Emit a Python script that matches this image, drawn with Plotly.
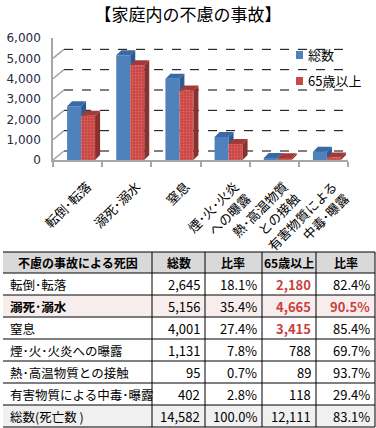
import plotly.graph_objects as go

# ---------------- data ----------------
axis_labels = ["転倒･転落", "溺死･溺水", "窒息", "煙･火･火炎<br>への曝露",
               "熱･高温物質<br>との接触", "有害物質による<br>中毒･曝露"]
table_names = ["転倒･転落", "溺死･溺水", "窒息", "煙･火･火炎への曝露",
               "熱･高温物質との接触", "有害物質による中毒･曝露", "総数(死亡数 )"]
total = [2645, 5156, 4001, 1131, 95, 402]
total_sum = 14582
total_ratio = [18.1, 35.4, 27.4, 7.8, 0.7, 2.8, 100.0]
elderly = [2180, 4665, 3415, 788, 89, 118]
elderly_sum = 12111
elderly_ratio = [82.4, 90.5, 85.4, 69.7, 93.7, 29.4, 83.1]
y_ticks = [0, 1000, 2000, 3000, 4000, 5000, 6000]
series_names = ["総数", "65歳以上"]
header = ["不慮の事故による死因", "総数", "比率", "65歳以上", "比率"]

# ---------------- geometry helpers (pixels -> data) ----------------
W, H = 376, 428
x0px, x1px = 53, 348          # x axis domain in px
ytop_px, ybot_px = 38, 160    # y=6000, y=0
n = len(total)
ppu_x = (x1px - x0px) / n
ppu_y = (ybot_px - ytop_px) / 6000
wall_dx, wall_dy = 11 / ppu_x, 9 / ppu_y      # back wall offset
bar_dx, bar_dy = 5 / ppu_x, 5 / ppu_y         # bar depth
bw = 14 / ppu_x
off_blue = -10.5 / ppu_x
off_red = off_blue + bw

JP = "Noto Sans CJK JP"
BLUE, RED = "#4F81BD", "#C94744"
fig = go.Figure()

xs = list(range(n))
fig.add_trace(go.Bar(x=xs, y=total, width=bw, offset=off_blue, name=series_names[0],
                     marker=dict(color=BLUE, line=dict(width=0)), showlegend=False))


def faces(vals, off, lower=None):
    sx, sy, tx, ty = [], [], [], []
    for i, v in enumerate(vals):
        xl = i + off
        xr = xl + bw
        lo = 0 if lower is None else lower[i]
        sx += [xr, xr, xr + bar_dx, xr + bar_dx, xr, None]
        sy += [lo, v, v + bar_dy, lo + (bar_dy if lower is None else 0), lo, None]
        tx += [xl, xr, xr + bar_dx, xl + bar_dx, xl, None]
        ty += [v, v, v + bar_dy, v + bar_dy, v, None]
    return sx, sy, tx, ty


sx, sy, tx, ty = faces(total, off_blue, lower=elderly)
fig.add_trace(go.Scatter(x=sx, y=sy, fill="toself", fillcolor="#2C5A91", mode="lines",
                         line=dict(width=0), showlegend=False, hoverinfo="skip"))
fig.add_trace(go.Scatter(x=tx, y=ty, fill="toself", fillcolor="#3A6AA6", mode="lines",
                         line=dict(width=0), showlegend=False, hoverinfo="skip"))

fig.add_trace(go.Bar(x=xs, y=elderly, width=bw, offset=off_red, name=series_names[1],
                     marker=dict(color=RED, line=dict(width=0),
                                 pattern=dict(shape=".", fgcolor="#E38482", size=3, solidity=0.3)),
                     showlegend=False))
sx, sy, tx, ty = faces(elderly, off_red)
fig.add_trace(go.Scatter(x=sx, y=sy, fill="toself", fillcolor="#8A302E", mode="lines",
                         line=dict(width=0), showlegend=False, hoverinfo="skip"))
fig.add_trace(go.Scatter(x=tx, y=ty, fill="toself", fillcolor="#A43A37", mode="lines",
                         line=dict(width=0), showlegend=False, hoverinfo="skip"))

# ---------------- decorative walls / grid ----------------
shapes = []
annotations = []
xstart = -0.5 + wall_dx
for v in y_ticks:
    xend = -0.5 + (345 - x0px) / ppu_x
    shapes.append(dict(type="line", xref="x", yref="y", x0=xstart, x1=xend,
                       y0=v + wall_dy, y1=v + wall_dy, layer="below",
                       line=dict(color="black", width=1, dash="dash")))
    shapes.append(dict(type="line", xref="x", yref="y", x0=-0.5, x1=xstart,
                       y0=v, y1=v + wall_dy, layer="below",
                       line=dict(color="#A6A6A6", width=1.5)))
# white box behind legend
shapes.append(dict(type="rect", xref="paper", yref="paper", x0=285 / W, x1=1,
                   y0=1 - 84 / H, y1=1 - 20 / H, layer="below",
                   fillcolor="white", line=dict(width=0)))
# floor right edge
shapes.append(dict(type="line", xref="x", yref="y", x0=n - 0.5, x1=n - 0.5 + wall_dx,
                   y0=0, y1=wall_dy, line=dict(color="#A6A6A6", width=1.5)))

# legend (manual)
leg_y = [55, 81]
for name, col, yy in zip(series_names, [BLUE, RED], leg_y):
    shapes.append(dict(type="rect", xref="paper", yref="paper", x0=296 / W, x1=303 / W,
                       y0=1 - (yy + 4) / H, y1=1 - (yy - 4) / H, fillcolor=col,
                       line=dict(width=0)))
    annotations.append(dict(text=name, xref="paper", yref="paper", x=306 / W, y=1 - yy / H,
                            xanchor="left", yanchor="middle", showarrow=False,
                            font=dict(family=JP, size=13, color="black")))

# ---------------- table (drawn as grid + text) ----------------
def fmt(v):
    return f"{v:,}"

col_edges = [3, 152, 205, 262, 316, 375]
row_edges = [252, 273, 295, 317, 339, 361, 383, 405, 427]
red = "#C8403C"
row_fill = ["white", "#F8EDED", "white", "white", "white", "white", "#F0F0F0"]

def py(p):
    return 1 - p / H

def pxf(p):
    return p / W

shapes.append(dict(type="rect", xref="paper", yref="paper", x0=pxf(col_edges[0]), x1=pxf(col_edges[-1]),
                   y0=py(row_edges[1]), y1=py(row_edges[0]), fillcolor="#D9D9D9", line=dict(width=0)))
for r, fc in enumerate(row_fill):
    if fc != "white":
        shapes.append(dict(type="rect", xref="paper", yref="paper", x0=pxf(col_edges[0]),
                           x1=pxf(col_edges[-1]), y0=py(row_edges[r + 2]), y1=py(row_edges[r + 1]),
                           fillcolor=fc, line=dict(width=0)))
for ry in row_edges:
    shapes.append(dict(type="line", xref="paper", yref="paper", x0=pxf(col_edges[0]),
                       x1=pxf(col_edges[-1]), y0=py(ry), y1=py(ry), line=dict(color="black", width=1)))
for cx in col_edges[1:]:
    shapes.append(dict(type="line", xref="paper", yref="paper", x0=pxf(cx), x1=pxf(cx),
                       y0=py(row_edges[-1]), y1=py(row_edges[0]), line=dict(color="black", width=1)))

for c, h in enumerate(header):
    annotations.append(dict(text="<b>" + h + "</b>", xref="paper", yref="paper",
                            x=pxf((col_edges[c] + col_edges[c + 1]) / 2),
                            y=py((row_edges[0] + row_edges[1]) / 2), xanchor="center",
                            yanchor="middle", showarrow=False,
                            font=dict(family=JP, size=12, color="black")))

col1 = [fmt(v) for v in total] + [fmt(total_sum)]
col2 = [f"{r:.1f}%" for r in total_ratio]
col3 = [fmt(v) for v in elderly] + [fmt(elderly_sum)]
col4 = [f"{r:.1f}%" for r in elderly_ratio]
for r in range(7):
    yc = py((row_edges[r + 1] + row_edges[r + 2]) / 2)
    name = table_names[r]
    annotations.append(dict(text=("<b>" + name + "</b>") if r == 1 else name, xref="paper",
                            yref="paper", x=pxf(col_edges[0] + 5), y=yc, xanchor="left",
                            yanchor="middle", showarrow=False,
                            font=dict(family=JP, size=12.5, color="black")))
    cells = [col1[r], col2[r], col3[r], col4[r]]
    for c, txt in enumerate(cells, start=1):
        bold = (c == 3 and r < 3) or (c == 4 and r == 1)
        color = red if bold else "black"
        annotations.append(dict(text=("<b>" + txt + "</b>") if bold else txt, xref="paper",
                                yref="paper", x=pxf(col_edges[c + 1] - 3), y=yc, xanchor="right",
                                yanchor="middle", showarrow=False,
                                font=dict(family=JP, size=13, color=color)))

fig.update_layout(
    width=W, height=H, margin=dict(l=0, r=0, t=0, b=0, autoexpand=False),
    paper_bgcolor="white", plot_bgcolor="rgba(0,0,0,0)",
    barmode="overlay", shapes=shapes, annotations=annotations, showlegend=False,
    title=dict(text="【家庭内の不慮の事故】", x=0.5, xref="paper", xanchor="center",
               y=1 - 15 / H, yref="container", yanchor="middle",
               font=dict(family=JP, size=17, color="black")),
    xaxis=dict(domain=[x0px / W, x1px / W], range=[-0.5, n - 0.5], tickvals=xs,
               ticktext=axis_labels, tickangle=-45, showgrid=False, zeroline=False,
               showline=True, linecolor="#A6A6A6", linewidth=2, ticks="", automargin=False,
               ticklabelstandoff=12, ticklabelshift=10,
               tickfont=dict(family=JP, size=13, color="black"),
               minor=dict(tickvals=[i - 0.5 for i in range(n + 1)], ticks="outside",
                          ticklen=5, tickcolor="#A6A6A6", tickwidth=1.5)),
    yaxis=dict(domain=[1 - ybot_px / H, 1 - ytop_px / H], range=[0, 6000], tickvals=y_ticks,
               tickformat=",d", showgrid=False, zeroline=False, showline=True, automargin=False,
               linecolor="#A6A6A6", linewidth=1.5, ticks="", ticklabelstandoff=8,
               tickfont=dict(family="DejaVu Sans", size=12, color="#1F2A44")),
)

fig.write_html("out.html", config={"displayModeBar": False},
               post_script="document.body.style.margin='0px';")
